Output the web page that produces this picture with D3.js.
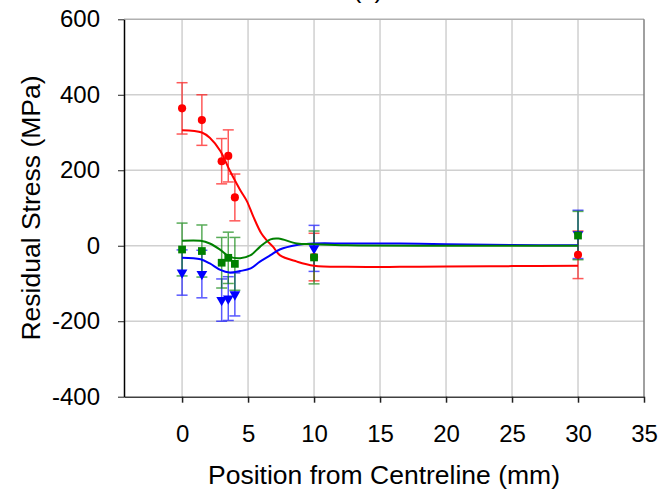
<html>
<head>
<meta charset="utf-8">
<script src="https://d3js.org/d3.v7.min.js"></script>
<style>
  body { margin: 0; background: white; }
  text { font-family: "Liberation Sans", Arial, sans-serif; fill: black; }
</style>
</head>
<body>
<script>
    // measured points (position mm, stress MPa, error bar half-size)
    let positions = [0, 1.5, 3, 3.5, 4, 10, 30];
    let redVals = [364, 333, 224, 238, 128, -30, -24];
    let redErr = [68, 67, 60, 69, 62, 63, 63];
    let greenVals = [-10, -14, -45, -32, -48, -31, 27];
    let greenErr = [70, 69, 67, 68, 70, 70, 64];
    let blueVals = [-71, -75, -144, -140, -129, -7, 30];
    let blueErr = [60, 63, 56, 58, 57, 61, 64];

    // fitted curves
    let redFitX = [0, 1.5, 2.1, 2.9, 3.6, 4.4, 4.9, 5.4, 6.0, 6.4, 6.9, 7.4, 8.7, 10, 12.5, 16.5, 20, 25, 30];
    let redFitY = [306, 300, 286, 251, 200, 148, 119, 77, 33, 15, -3, -25, -42, -53, -56, -56, -55, -54, -53];
    let greenFitX = [0, 1.4, 2.1, 2.9, 3.6, 4.4, 5.2, 5.9, 6.7, 7.3, 8.7, 10, 12.5, 20, 30];
    let greenFitY = [13, 13, 6, -11, -29, -33, -25, -3, 17, 19, 6, 4, 1, 0, 0];
    let blueFitX = [0, 1.4, 2.1, 2.9, 3.6, 4.4, 5.2, 5.9, 6.7, 7.4, 8.7, 10, 12.5, 16.5, 20, 25, 30];
    let blueFitY = [-32, -36, -47, -64, -71, -67, -60, -42, -25, -10, 2, 6, 6, 6, 4, 2, 1];

    let xTicks = [0, 5, 10, 15, 20, 25, 30, 35];
    let yTicks = [-400, -200, 0, 200, 400, 600];

    let svg = d3.select("body").append("svg")
        .attr("width", 662)
        .attr("height", 493);

    let x = d3.scaleLinear().domain([-4.4, 35]).range([124, 644]);
    let y = d3.scaleLinear().domain([-400, 600]).range([396.7, 19.3]);

    // grid
    svg.selectAll(".vgrid")
        .data(xTicks.filter(t => t < 35))
        .enter().append("line")
        .attr("x1", d => x(d)).attr("x2", d => x(d))
        .attr("y1", y(600)).attr("y2", y(-400))
        .attr("stroke", "#d0d0d0").attr("stroke-width", 1.5);
    svg.selectAll(".hgrid")
        .data(yTicks.filter(t => t > -400))
        .enter().append("line")
        .attr("x1", x(-4.4)).attr("x2", x(35))
        .attr("y1", d => y(d)).attr("y2", d => y(d))
        .attr("stroke", d => d == 600 ? "#b0b0b0" : "#d0d0d0").attr("stroke-width", 1.5);
    // right border
    svg.append("line")
        .attr("x1", x(35)).attr("x2", x(35))
        .attr("y1", y(600)).attr("y2", y(-400))
        .attr("stroke", "#808080").attr("stroke-width", 1.5);

    // axes
    let xAxis = svg.append("g")
        .attr("transform", "translate(0," + y(-400) + ")")
        .call(d3.axisBottom(x).tickValues(xTicks).tickFormat(d => String(d)).tickSize(6).tickSizeOuter(0).tickPadding(22));
    xAxis.select(".domain").attr("stroke", "#404040").attr("stroke-width", 1.5);
    xAxis.selectAll(".tick line").attr("stroke", "#202020").attr("stroke-width", 1.5);
    xAxis.selectAll("text").style("font-size", "24px").attr("fill", "black");

    let yAxis = svg.append("g")
        .attr("transform", "translate(" + x(-4.4) + ",0)")
        .call(d3.axisLeft(y).tickValues(yTicks).tickFormat(d => String(d)).tickSize(6).tickSizeOuter(0).tickPadding(18));
    yAxis.select(".domain").attr("stroke", "black").attr("stroke-width", 1.5);
    yAxis.selectAll(".tick line").attr("stroke", "#202020").attr("stroke-width", 1);
    yAxis.selectAll("text").style("font-size", "24px").attr("fill", "black");

    svg.append("text")
        .attr("x", (x(-4.4) + x(35)) / 2)
        .attr("y", 484)
        .attr("text-anchor", "middle")
        .style("font-size", "26.5px")
        .text("Position from Centreline (mm)");

    svg.append("text")
        .attr("transform", "translate(40," + (y(600) + y(-400)) / 2 + ") rotate(-90)")
        .attr("text-anchor", "middle")
        .style("font-size", "26.5px")
        .text("Residual Stress (MPa)");

    // panel label, cut off at the top as in the source figure
    svg.append("text")
        .attr("x", 368).attr("y", -2)
        .attr("text-anchor", "middle")
        .style("font-size", "26px")
        .text("(c)");

    let series = [
        {vals: redVals, err: redErr, color: "#ff0000", fx: redFitX, fy: redFitY, shape: "circle"},
        {vals: blueVals, err: blueErr, color: "#0000ff", fx: blueFitX, fy: blueFitY, shape: "triangle"},
        {vals: greenVals, err: greenErr, color: "#008000", fx: greenFitX, fy: greenFitY, shape: "square"}
    ];

    // error bars
    series.forEach(s => {
        let g = svg.append("g").attr("stroke", s.color).attr("stroke-width", 1.5).attr("opacity", 0.65);
        positions.forEach((p, i) => {
            let top = y(s.vals[i] + s.err[i]), bot = y(s.vals[i] - s.err[i]);
            g.append("line").attr("x1", x(p)).attr("x2", x(p)).attr("y1", top).attr("y2", bot);
            g.append("line").attr("x1", x(p) - 5.5).attr("x2", x(p) + 5.5).attr("y1", top).attr("y2", top);
            g.append("line").attr("x1", x(p) - 5.5).attr("x2", x(p) + 5.5).attr("y1", bot).attr("y2", bot);
        });
    });

    // fitted curves
    let line = d3.line()
        .x(d => x(d[0]))
        .y(d => y(d[1]))
        .curve(d3.curveCatmullRom.alpha(0.5));
    series.forEach(s => {
        svg.append("path")
            .datum(s.fx.map((v, i) => [v, s.fy[i]]))
            .attr("d", line)
            .attr("fill", "none")
            .attr("stroke", s.color)
            .attr("stroke-width", 2);
    });

    // markers
    series.forEach(s => {
        let sym = d3.symbol();
        if (s.shape == "circle") sym.type(d3.symbolCircle).size(52);
        else if (s.shape == "square") sym.type(d3.symbolSquare).size(60);
        else sym.type(d3.symbolTriangle).size(50);
        svg.selectAll(null)
            .data(positions)
            .enter().append("path")
            .attr("d", sym)
            .attr("transform", (d, i) => "translate(" + x(d) + "," + y(s.vals[i]) + ")" + (s.shape == "triangle" ? " rotate(180)" : ""))
            .attr("fill", s.color);
    });
</script>
</body>
</html>
